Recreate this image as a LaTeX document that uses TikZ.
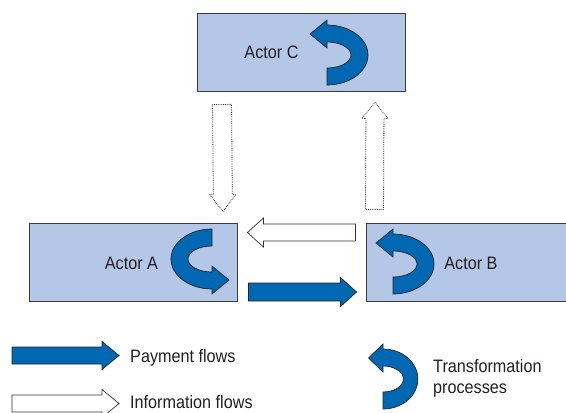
\documentclass[tikz,border=0pt]{standalone}
\usepackage{fontspec}
\setmainfont{Liberation Sans}[FakeStretch=0.9]
\usetikzlibrary{calc}

\definecolor{boxfill}{RGB}{180,199,231}
\definecolor{flowblue}{RGB}{0,103,178}
\definecolor{edgegray}{RGB}{60,60,60}
\definecolor{inkgray}{RGB}{35,31,32}

\tikzset{
  actor/.style={draw=edgegray, line width=0.9pt, fill=boxfill,
    minimum width=208pt, minimum height=78pt, inner sep=0pt},
  txt/.style={text=inkgray, font=\fontsize{18}{21}\selectfont,
    inner sep=0pt, anchor=base},
  % straight block arrow: half body width / half head width / head length
  blockarrow/.style n args={3}{to path={
    ($(\tikztostart)!#1!90:(\tikztotarget)$)
    -- ($($(\tikztotarget)!#3!(\tikztostart)$)!#1!-90:(\tikztostart)$)
    -- ($($(\tikztotarget)!#3!(\tikztostart)$)!#2!-90:(\tikztostart)$)
    -- (\tikztotarget)
    -- ($($(\tikztotarget)!#3!(\tikztostart)$)!#2!90:(\tikztostart)$)
    -- ($($(\tikztotarget)!#3!(\tikztostart)$)!#1!90:(\tikztostart)$)
    -- ($(\tikztostart)!#1!-90:(\tikztotarget)$)
    -- cycle}},
  payflow/.style={fill=flowblue, draw=black!85, line width=0.7pt, line join=miter},
  infoflow/.style={fill=white, draw=black!80, line width=0.7pt, line join=miter},
  dotflow/.style={draw=black!80, line width=0.8pt, densely dotted},
  turnstyle/.style={fill=flowblue, draw=black!85, line width=0.7pt, line join=miter},
  % curved arrow of a transformation process
  turnarrow/.pic={
    \draw[turnstyle] (-17,-21) -- (0,-35) -- (0,-30)
      arc[start angle=-90, end angle=90, x radius=41, y radius=30]
      -- (0,13)
      arc[start angle=90, end angle=-90, x radius=24, y radius=13]
      -- (0,-7) -- cycle;
  }
}

\begin{document}
\begin{tikzpicture}[x=1pt, y=1pt, yscale=-1]
\useasboundingbox (0,0) rectangle (566,413);
\clip (0,0) rectangle (566,413);

% actors
\node[actor] (C) at (301,52) {};
\node[actor] (A) at (133,262) {};
\node[actor] (B) at (470,262) {};

\node[txt] (tC) at (271.5,58.5) {Actor C};
\node[txt] (tA) at (131.5,269.5) {Actor A};
\node[txt] (tB) at (471,269.5) {Actor B};

% transformation processes
\pic[transform shape] (rC) at (327,55) {turnarrow};
\pic[transform shape] (rB) at (393,264) {turnarrow};
\pic[transform shape, rotate=180] (rA) at (212,259) {turnarrow};

% flow end points
\coordinate (infoS) at ($(B.west)+(-10,-29.5)$);
\coordinate (infoE) at ($(A.east)+(10,-29.5)$);
\coordinate (payS)  at ($(A.east)+(11,30)$);
\coordinate (payE)  at ($(B.west)+(-9,30)$);
\coordinate (downS) at ($(C.south west)+(25.5,13)$);
\coordinate (downE) at ($(A.north east)+(-14.5,-11)$);
\coordinate (upS)   at ($(B.north west)+(9,-13)$);
\coordinate (upE)   at ($(C.south)+(74,11)$);

% flows between actors
\draw[infoflow] (infoS) to[blockarrow={8.5pt}{14.5pt}{16pt}] (infoE);
\draw[payflow]  (payS)  to[blockarrow={9pt}{14.5pt}{16pt}] (payE);
\draw[dotflow]  (downS) to[blockarrow={9.5pt}{13pt}{17pt}] (downE);
\draw[dotflow]  (upS)   to[blockarrow={9pt}{13pt}{16pt}] (upE);

% legend
\coordinate (lpS) at (12,355.5);
\coordinate (lpE) at (119,355.5);
\coordinate (liS) at (12,403.5);
\coordinate (liE) at (119,403.5);
\draw[payflow]  (lpS) to[blockarrow={8.5pt}{14pt}{17pt}] (lpE);
\draw[infoflow] (liS) to[blockarrow={8.5pt}{14pt}{17pt}] (liE);
\node[txt, anchor=base west] (lp) at (130,362) {Payment flows};
\node[txt, anchor=base west] (li) at (130,408.5) {Information flows};

\pic[transform shape, xscale=0.85] (rL) at (383,379) {turnarrow};
\node[txt, anchor=base west] (lt1) at (433,372) {Transformation};
\node[txt, anchor=base west] (lt2) at (433,393) {processes};
\end{tikzpicture}
\end{document}
